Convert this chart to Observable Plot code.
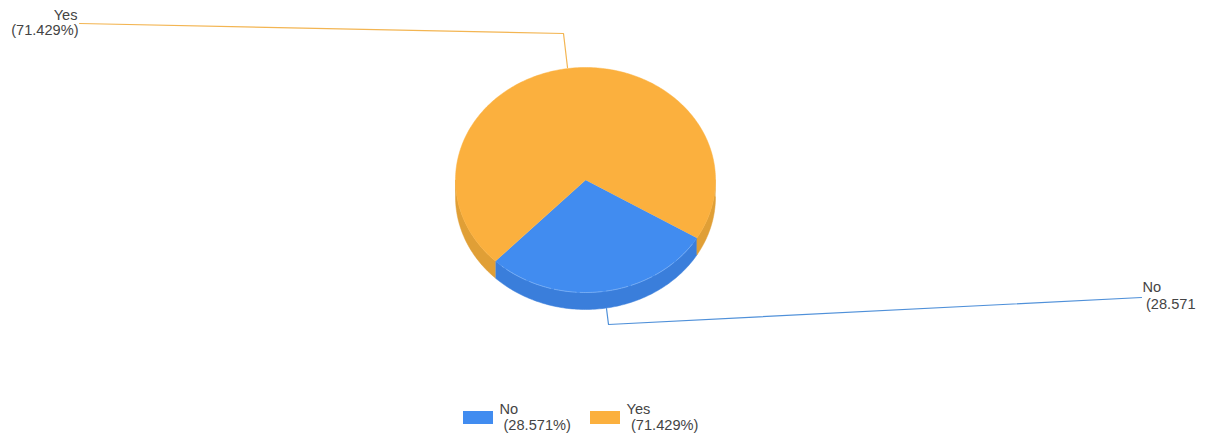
<!DOCTYPE html>
<html>
<head>
<meta charset="utf-8">
<script src="https://cdn.jsdelivr.net/npm/d3@7"></script>
<script src="https://cdn.jsdelivr.net/npm/@observablehq/plot@0.6"></script>
<style>
html,body{margin:0;padding:0;background:#fff;overflow:hidden}
svg{display:block}
</style>
</head>
<body>
<div id="chart"></div>
<script>
const categories = ["No", "Yes"];
const shares = [28.571, 71.429];
const shareLabels = ["(28.571%)", "(71.429%)"];
const topColors = ["#418cf0", "#fbb03e"];
const sideColors = ["#3a7edb", "#e09f36"];

// Layout of the tilted pie
const cx = 585, cy = 179.5, rx = 130, ry = 112.5, depth = 17, startAngle = 121;

// Slices from the values
const total = d3.sum(shares);
let running = startAngle;
const slices = categories.map((name, i) => {
  const a0 = running;
  running += shares[i] / total * 360;
  return {name, i, a0, a1: running};
});
const pt = (deg, dy = 0) => {
  const r = deg * Math.PI / 180;
  return [cx + rx * Math.sin(r), cy - ry * Math.cos(r) + dy];
};
const arc = (a0, a1, dy = 0) => {
  const n = Math.max(2, Math.ceil(Math.abs(a1 - a0)));
  return d3.range(n + 1).map(k => pt(a0 + (a1 - a0) * k / n, dy));
};
const poly = (id, fill, pts) => pts.map(([x, y]) => ({id, fill, x, y}));

const sidePts = [], topPts = [], rimPts = [];
slices.forEach(s => {
  // visible wall: the front half of the ellipse, angles 90 to 270
  [[s.a0, s.a1], [s.a0 - 360, s.a1 - 360]].forEach(([a, b], j) => {
    const lo = Math.max(a, 90), hi = Math.min(b, 270);
    if (hi > lo) sidePts.push(...poly(`w${s.i}${j}`, sideColors[s.i],
      [...arc(lo, hi), ...arc(hi, lo, depth)]));
  });
  topPts.push(...poly(`t${s.i}`, topColors[s.i],
    [[cx, cy], ...arc(s.a0, s.a1)]));
});
rimPts.push(...arc(slices[0].a0 + 4, slices[0].a1 - 4).map(([x, y]) => ({x, y})));

// Leader lines and labels
const leaders = [
  {id: "No", stroke: "#4f90d9", pts: [[606, 308], [608, 324], [1141, 297]]},
  {id: "Yes", stroke: "#f3b552", pts: [[567, 67], [563, 33], [79, 23]]}
].flatMap(l => l.pts.map(([x, y]) => ({id: l.id, stroke: l.stroke, x, y})));

const labels = [
  {t: "Yes", x: 77, y: 15, a: "end"},
  {t: shareLabels[1], x: 78, y: 30, a: "end"},
  {t: "No", x: 1142, y: 287, a: "start"},
  {t: shareLabels[0].slice(0, 7), x: 1145.5, y: 304, a: "start"},
  {t: categories[0], x: 499, y: 409, a: "start"},
  {t: shareLabels[0], x: 503, y: 425, a: "start"},
  {t: categories[1], x: 626, y: 409, a: "start"},
  {t: shareLabels[1], x: 630.5, y: 425, a: "start"}
];
const swatches = [
  {x1: 463, x2: 493, y1: 411, y2: 424, fill: topColors[0]},
  {x1: 590, x2: 620, y1: 411, y2: 424, fill: topColors[1]}
];
const textStyle = {fontFamily: "'Liberation Sans', Arial, sans-serif", fontSize: 14.6, fill: "#444"};

const chart = Plot.plot({
  width: 1214,
  height: 439,
  margin: 0,
  x: {domain: [0, 1214], range: [0, 1214], axis: null},
  y: {domain: [0, 439], range: [0, 439], axis: null},
  marks: [
    Plot.line(leaders, {x: "x", y: "y", z: "id", stroke: d => d.stroke, strokeWidth: 1.2, curve: "linear"}),
    Plot.line(sidePts, {x: "x", y: "y", z: "id", fill: d => d.fill, stroke: d => d.fill, strokeWidth: 0.5}),
    Plot.line(topPts, {x: "x", y: "y", z: "id", fill: d => d.fill, stroke: d => d.fill, strokeWidth: 0.5}),
    Plot.line(rimPts, {x: "x", y: "y", stroke: "#8fbcf7", strokeWidth: 1, strokeDasharray: "22 4", strokeOpacity: 0.6}),
    Plot.rect(swatches, {x1: "x1", x2: "x2", y1: "y1", y2: "y2", fill: d => d.fill}),
    ...["start", "end"].map(a => Plot.text(labels.filter(d => d.a === a), {
      x: "x", y: "y", text: "t", textAnchor: a, ...textStyle
    }))
  ]
});
document.getElementById("chart").append(chart);
</script>
</body>
</html>
